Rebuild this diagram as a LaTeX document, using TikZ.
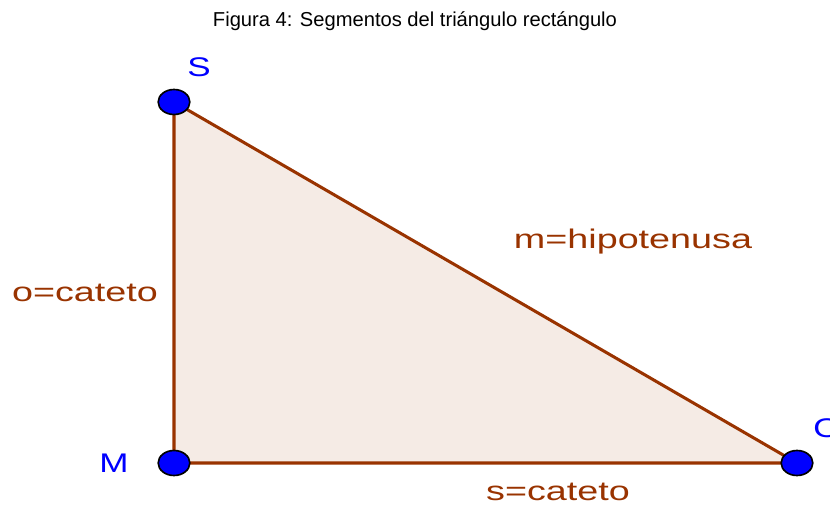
\documentclass[tikz,border=0pt]{standalone}
\usepackage{fontspec}
\setmainfont{Liberation Sans}
\usepackage{tikz}
\usetikzlibrary{shapes.geometric, backgrounds}
\definecolor{segbrown}{RGB}{153,51,0}
\definecolor{ptblue}{RGB}{0,0,255}

\begin{document}
\begin{tikzpicture}[x=0.03cm, y=-0.03cm,
  pt/.style={ellipse, draw=black, line width=1.4pt, fill=ptblue,
             minimum width=0.95cm, minimum height=0.75cm, inner sep=0pt},
  seg/.style={draw=segbrown, line width=2.6pt, fill=segbrown!10, line join=round},
  seglbl/.style={text=segbrown, font=\fontsize{23}{25}\selectfont,
                 xscale=1.4, transform shape, inner sep=0pt},
  ptlbl/.style={text=ptblue, font=\fontsize{23}{25}\selectfont,
                xscale=1.3, transform shape, inner sep=0pt},
  ttl/.style={font=\fontsize{17.2}{19}\selectfont, inner sep=0pt}
]
\useasboundingbox (0,0) rectangle (830,505);

% Title
\node[ttl] (title) at (415,21) {Figura 4: Segmentos del triángulo rectángulo};

% Vertices
\node[pt] (S) at (174,102) {};
\node[pt] (M) at (174,463) {};
\node[pt] (O) at (797,463) {};

% Segments
\begin{scope}[on background layer]
\draw[seg] (S.center) -- (M.center) -- (O.center) -- cycle;
\end{scope}

% Labels
\node[ptlbl] (Slbl) at (199,67) {S};
\node[ptlbl] (Mlbl) at (114,463) {M};
\node[ptlbl] (Olbl) at (827,428) {O};
\node[seglbl] (olbl) at (85,293) {o=cateto};
\node[seglbl] (mlbl) at (633,242) {m=hipotenusa};
\node[seglbl] (slbl) at (558,492) {s=cateto};

\end{tikzpicture}
\end{document}
